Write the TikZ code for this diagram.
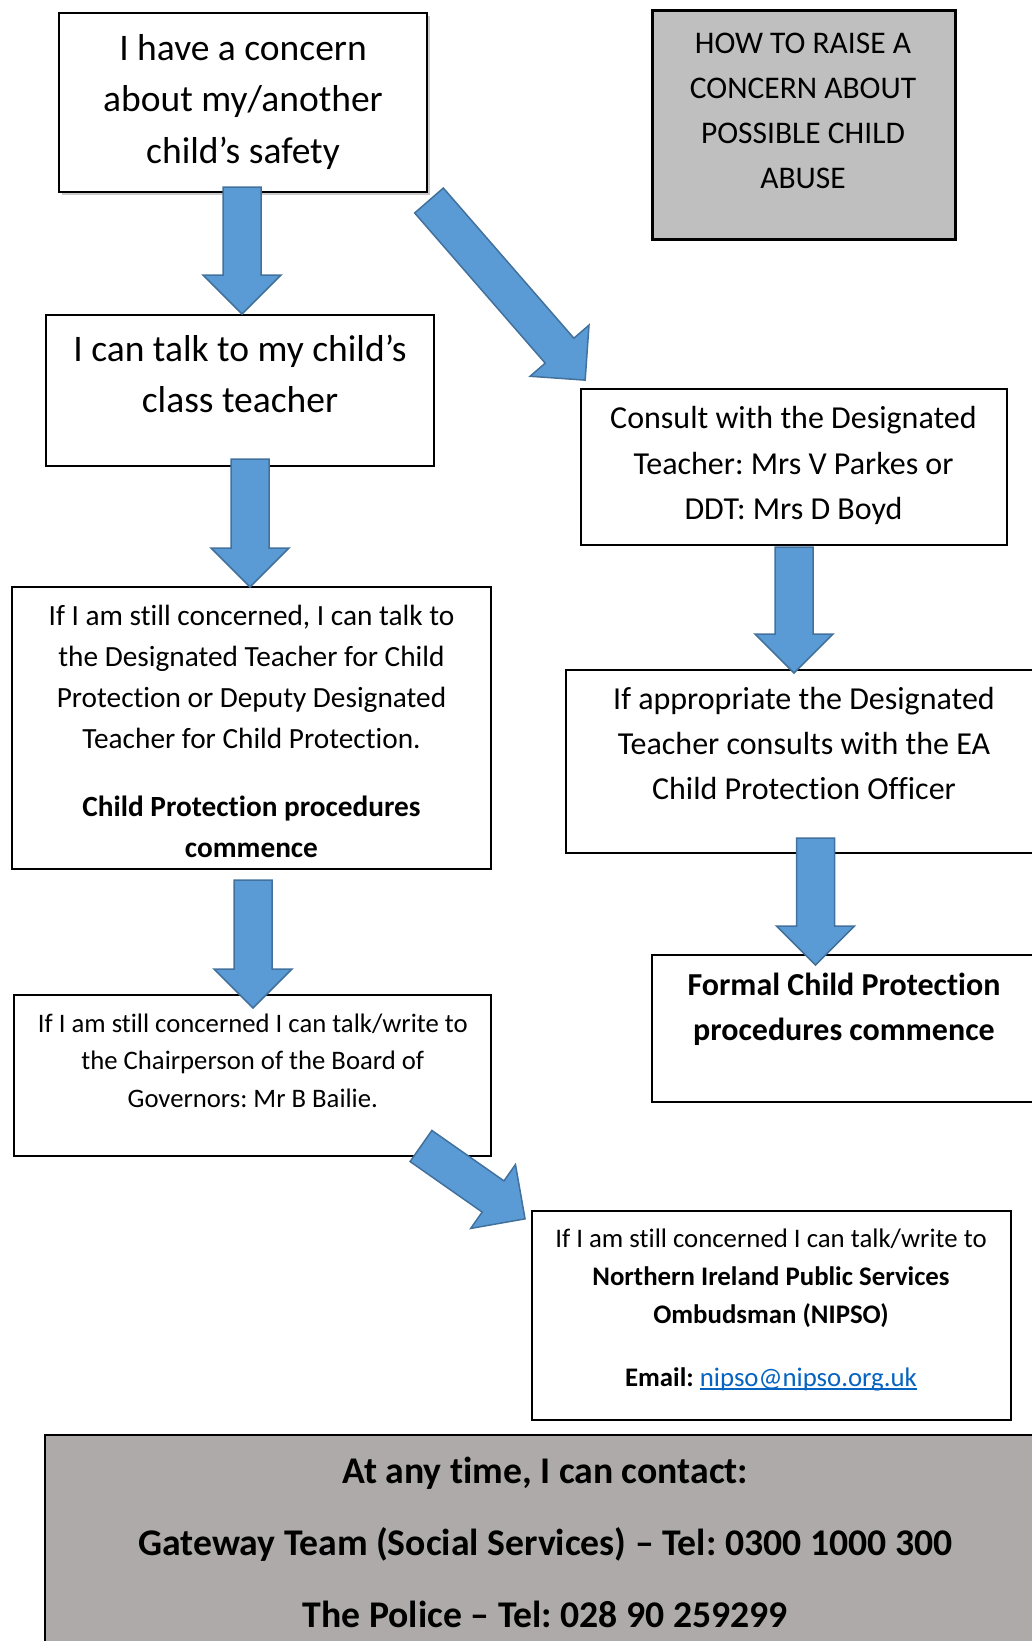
\documentclass[tikz,border=0pt]{standalone}
\usepackage{fontspec}
\setmainfont{Carlito}[Ligatures=NoCommon]
\frenchspacing
\usetikzlibrary{shadows,calc}
\definecolor{arrowblue}{HTML}{5B9BD5}
\definecolor{arrowedge}{HTML}{41719C}
\definecolor{titlegray}{HTML}{BFBFBF}
\definecolor{contactgray}{HTML}{AEAAAA}
\definecolor{linkblue}{HTML}{0563C1}
\newcommand\emailline[1]{\setbox0\hbox{#1}\rlap{\rule[-3.5pt]{\wd0}{2pt}}\box0}
\tikzset{
  box/.style={draw=black, line width=2pt, fill=white, inner sep=0pt},
  txt/.style={align=center, inner sep=0pt, anchor=north},
  pics/blockarrow/.style={code={
    \draw[fill=arrowblue, draw=arrowedge, line width=1.5pt]
      (0,-19) -- (#1-39,-19) -- (#1-39,-39) -- (#1,0) -- (#1-39,39) -- (#1-39,19) -- (0,19) -- cycle;
  }}
}

\begin{document}
\begin{tikzpicture}[x=1pt,y=-1pt]
\useasboundingbox (0,0) rectangle (1032,1641);
\clip (0,0) rectangle (1032,1641);

% boxes
\node [box, minimum width=368pt, minimum height=179pt,
  drop shadow={shadow xshift=3pt, shadow yshift=-3pt, opacity=.35, fill=black!60}] (concern) at (243,102.5) {};
\node [box, fill=titlegray, line width=3pt, minimum width=303pt, minimum height=229pt] (howto) at (803.5,124.5) {};
\node [box, minimum width=388pt, minimum height=151pt] (teacher) at (240,390.5) {};
\node [box, minimum width=426pt, minimum height=156pt] (consult) at (794,467) {};
\node [box, minimum width=479pt, minimum height=282pt] (designated) at (251.5,728) {};
\node [box, minimum width=484pt, minimum height=183pt] (appropriate) at (808,761.5) {};
\node [box, minimum width=398pt, minimum height=147pt] (formal) at (851,1028.5) {};
\node [box, minimum width=477pt, minimum height=161pt] (chair) at (252.5,1075.5) {};
\node [box, minimum width=479pt, minimum height=209pt] (nipso) at (771.5,1315.5) {};
\node [box, fill=contactgray, line width=2.5pt, minimum width=1005pt, minimum height=225pt] (contact) at (547.5,1547.5) {};

% texts
\node [txt, font=\fontsize{37.5}{51.5}\selectfont] (concerntext) at (243,34)
  {I have a concern\\about my/another\\child’s safety};
\node [txt, font=\fontsize{31.5}{45}\selectfont] (howtotext) at (803,32.5)
  {HOW TO RAISE A\\CONCERN ABOUT\\POSSIBLE CHILD\\ABUSE};
\node [txt, font=\fontsize{37.5}{51}\selectfont] (teachertext) at (240,335)
  {I can talk to my child’s\\class teacher};
\node [txt, font=\fontsize{32}{45.5}\selectfont] (consulttext) at (793.5,406.3)
  {Consult with the Designated\\Teacher: Mrs V Parkes or\\DDT: Mrs D Boyd};
\node [txt, font=\fontsize{29.3}{41}\selectfont] (designatedtext) at (251.5,605)
  {If I am still concerned, I can talk to\\the Designated Teacher for Child\\Protection or Deputy Designated\\Teacher for Child Protection.\\[27pt]
   \textbf{Child Protection procedures}\\\textbf{commence}};
\node [txt, font=\fontsize{32}{45}\selectfont] (appropriatetext) at (804,687.5)
  {If appropriate the Designated\\Teacher consults with the EA\\Child Protection Officer};
\node [txt, font=\fontsize{32}{45}\selectfont\bfseries] (formaltext) at (844,973)
  {Formal Child Protection\\procedures commence};
\node [txt, font=\fontsize{26.7}{37.7}\selectfont] (chairtext) at (252.8,1013.5)
  {If I am still concerned I can talk/write to\\the Chairperson of the Board of\\Governors: Mr B Bailie.};
\node [txt, font=\fontsize{26.8}{37.7}\selectfont] (nipsotext) at (771,1229)
  {If I am still concerned I can talk/write to\\\textbf{Northern Ireland Public Services}\\\textbf{Ombudsman (NIPSO)}\\[26pt]
   \textbf{Email:} {\color{linkblue}\emailline{nipso@nipso.org.uk}}};
\node [txt, font=\fontsize{37.7}{72.3}\selectfont\bfseries] (contacttext) at (545.3,1456.5)
  {At any time, I can contact:\\Gateway Team (Social Services) – Tel: 0300 1000 300\\The Police – Tel: 028 90 259299};

% arrows
\pic [rotate=-90] (tochild) at ($(concern.south)+(-1,-6)$) {blockarrow=127};
\pic [rotate=-49] (toconsult) at ($(concern.south east)+(1,7.5)$) {blockarrow=238};
\pic [rotate=-90] (todesignated) at ($(teacher.south)+(10,-8)$) {blockarrow=128};
\pic [rotate=-90] (toappropriate) at ($(consult.south)+(0,1)$) {blockarrow=126};
\pic [rotate=-90] (tochair) at ($(designated.south)+(1.5,10)$) {blockarrow=128};
\pic [rotate=-90] (toformal) at ($(appropriate.south)+(7.5,-16)$) {blockarrow=127};
\pic [rotate=-35] (tonipso) at ($(chair.south east)+(-71,-11)$) {blockarrow=127};

\end{tikzpicture}
\end{document}
